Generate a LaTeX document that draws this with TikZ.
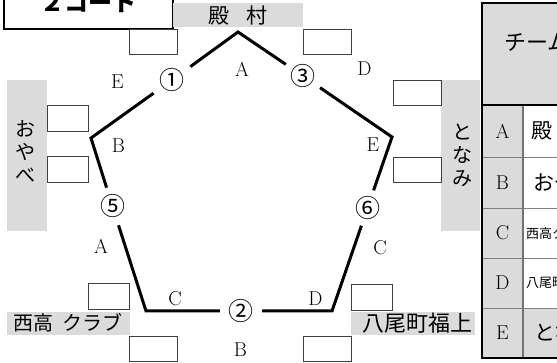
\documentclass[tikz,border=0pt]{standalone}
\usepackage{fontspec}
\newfontfamily\jp{Noto Sans CJK JP}
\begin{document}
\begin{tikzpicture}[x=1pt,y=-1pt,
  tone/.style={fill=black!14,draw=none},
  blank/.style={draw=black!75,line width=0.8pt,fill=white,inner sep=0pt},
  edge/.style={line width=3pt,line join=miter},
  num/.style={circle,inner sep=0pt,font=\jp\fontsize{25}{25}\selectfont},
  lab/.style={inner sep=0pt,font=\fontsize{20}{20}\selectfont},
  tlab/.style={inner sep=0pt,font=\fontsize{21}{21}\selectfont},
  jtext/.style={inner sep=0pt,font=\jp\fontsize{20}{20}\selectfont},
  vtext/.style={inner sep=0pt,align=center,font=\jp\fontsize{20}{23}\selectfont},
  sbox/.style={blank,minimum width=48,minimum height=25},
  nbox/.style={blank,minimum width=41,minimum height=26}]
\useasboundingbox (0,0) rectangle (557,363);
\clip (0,0) rectangle (557,363);

% title box
\node[draw,line width=1.6pt,fill=white,minimum width=169,minimum height=60,inner sep=0pt] (title) at (88.5,-1) {};
\node[anchor=base,inner sep=0pt,font=\jp\bfseries\fontsize{24}{24}\selectfont] (titletxt) at (88,12) {２コート};

% screentone label areas
\fill[tone] (173,3) rectangle (303,27);
\fill[tone] (7,80) rectangle (47,231);
\fill[tone] (441,80) rectangle (480,231);
\fill[tone] (7,312) rectangle (130,335);
\fill[tone] (351,312) rectangle (475,335);

\node[jtext,font=\jp\fontsize{21}{21}\selectfont] (tonomura) at (238,16) {殿\hspace{17pt}村};
\node[vtext] (oyabe) at (26,152) {お\\や\\べ};
\node[vtext] (tonami) at (462,155) {と\\な\\み};
\node[jtext,anchor=west] (nishitaka) at (13,323) {西高\hspace{9pt}クラブ};
\node[jtext,anchor=west,font=\jp\fontsize{22}{22}\selectfont] (yatsuo) at (362,323) {八尾町福上};

% blank answer boxes
\node[sbox] (b1) at (153.5,42) {};
\node[sbox] (b2) at (327,41.5) {};
\node[sbox] (b3) at (417,92.5) {};
\node[sbox] (b4) at (417,169.5) {};
\node[nbox] (b5) at (67.5,118) {};
\node[nbox] (b6) at (67.5,169.5) {};
\node[nbox] (b7) at (108.5,296) {};
\node[sbox] (b8) at (153,348.5) {};
\node[nbox] (b9) at (371.5,297) {};
\node[sbox] (b10) at (327,348.5) {};

% pentagon
\coordinate (T) at (238,32);
\coordinate (L) at (91,138);
\coordinate (R) at (392,137);
\coordinate (BL) at (146,311);
\coordinate (BR) at (332,311);
\node[num,minimum size=45] (c1) at (172,80) {①};
\node[num,minimum size=41] (c3) at (303,76) {③};
\node[num,minimum size=39] (c5) at (112.5,206.5) {⑤};
\node[num,minimum size=37] (c6) at (367.5,208) {⑥};
\node[num,minimum size=42] (c2) at (241,311) {②};
\draw[edge] (c1) -- (T) -- (c3);
\draw[edge] (c3) -- (R) -- (c6);
\draw[edge] (c6) -- (BR) -- (c2);
\draw[edge] (c2) -- (BL) -- (c5);
\draw[edge] (c5) -- (L) -- (c1);

% edge letters
\node[lab] (la1) at (242,69) {A};
\node[lab] (le1) at (117.5,81.5) {E};
\node[lab] (ld1) at (364.5,68.5) {D};
\node[lab] (lb1) at (118.5,145.5) {B};
\node[lab] (le2) at (373,144.5) {E};
\node[lab] (la2) at (101,246.5) {A};
\node[lab] (lc1) at (380,247.5) {C};
\node[lab] (lc2) at (175,299) {C};
\node[lab] (ld2) at (315.5,299) {D};
\node[lab] (lb2) at (240.5,349.5) {B};

% table
\fill[tone] (482,3) rectangle (600,105);
\fill[tone] (482,105) rectangle (523,358);
\fill[tone] (523,308) rectangle (600,358);
\foreach \yy in {157,208,258,308} \draw[black!50,line width=0.8pt] (482,\yy) -- (600,\yy);
\draw[black!55,line width=1.3pt] (523,105) -- (523,358);
\draw[line width=2pt] (482,105) -- (600,105);
\draw[line width=2pt] (482,3) rectangle (600,358);
\node[jtext,anchor=west,font=\jp\fontsize{22}{22}\selectfont] (head) at (504,43) {チーム};
\node[lab] (ta) at (502.5,131) {A};
\node[lab] (tb) at (502.5,182.5) {B};
\node[lab] (tc) at (502.5,233) {C};
\node[lab] (td) at (502.5,283) {D};
\node[lab] (te) at (502.5,333) {E};
\node[jtext,anchor=west,font=\jp\fontsize{21}{21}\selectfont] (na) at (531,131) {殿\hspace{17pt}村};
\node[jtext,anchor=west,font=\jp\fontsize{21}{21}\selectfont] (nb) at (533,182.5) {おやべ};
\node[jtext,anchor=west,font=\jp\fontsize{13}{13}\selectfont] (nc) at (526,233) {西高クラブ};
\node[jtext,anchor=west,font=\jp\fontsize{13}{13}\selectfont] (nd) at (526,283) {八尾町福上};
\node[jtext,anchor=west,font=\jp\fontsize{21}{21}\selectfont] (ne) at (534,333) {となみ};
\end{tikzpicture}
\end{document}
